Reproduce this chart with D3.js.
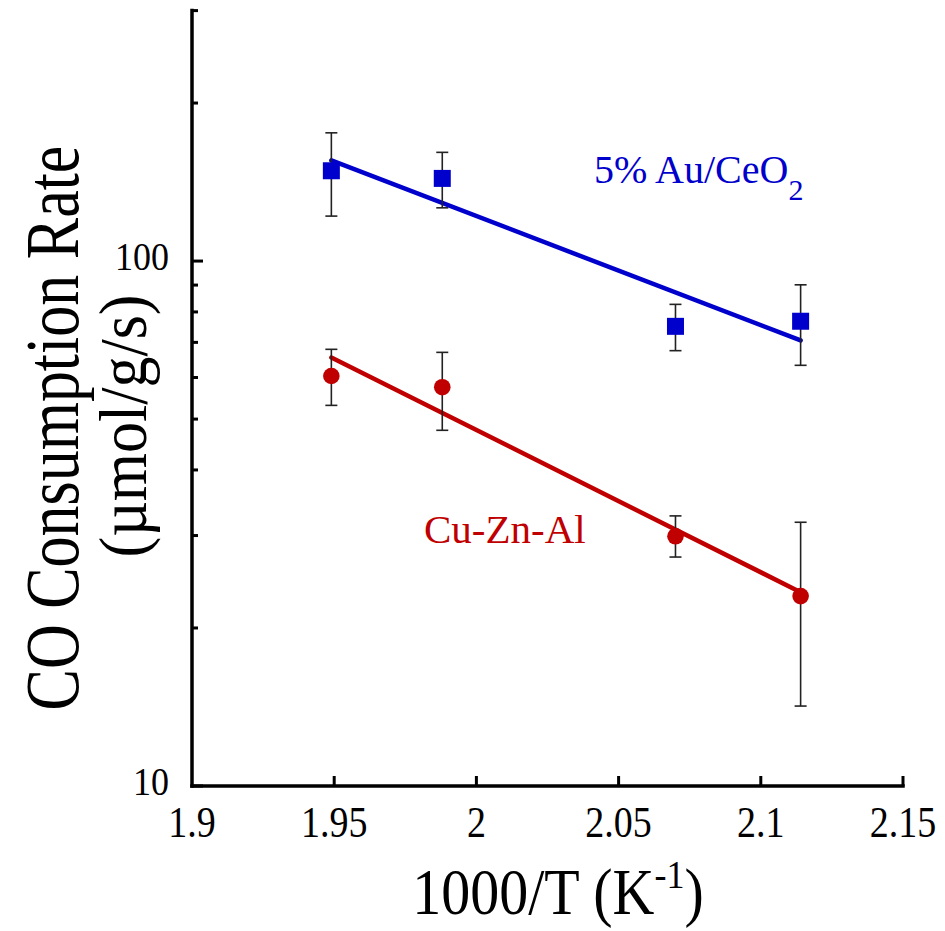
<!DOCTYPE html>
<html>
<head>
<meta charset="utf-8">
<script src="https://cdn.jsdelivr.net/npm/d3@7"></script>
<style>
  html, body { margin: 0; padding: 0; background: #fff; }
  svg text { font-family: "Liberation Serif", "Times New Roman", serif; }
</style>
</head>
<body>
<script>
// ---- data ----
const xValues = [1.949, 1.988, 2.070, 2.114];
const auRate = [148.6, 143.7, 75.1, 76.8];
const auErrLow = [121.8, 126.3, 67.5, 63.3];
const auErrHigh = [175.5, 161.1, 82.7, 90.1];
const cuRate = [60.4, 57.5, 29.9, 23.0];
const cuErrLow = [53.1, 47.6, 27.3, 14.2];
const cuErrHigh = [67.9, 67.0, 32.7, 31.8];
const auFitX = [1.949, 2.114];
const auFitY = [155.5, 70.6];
const cuFitX = [1.949, 2.114];
const cuFitY = [65.5, 23.4];
const xTicks = [1.9, 1.95, 2.0, 2.05, 2.1, 2.15];
const xTickLabels = ["1.9", "1.95", "2", "2.05", "2.1", "2.15"];
const yMajorTicks = [10, 100];
const yMinorTicks = [20, 30, 40, 50, 60, 70, 80, 90, 200, 300];

const W = 945, H = 931;
const blue = "#0000cc", red = "#c00000";

const svg = d3.select("body").append("svg").attr("width", W).attr("height", H);

const x = d3.scaleLinear().domain([1.9, 2.15]).range([192, 903]);
const y = d3.scaleLog().domain([10, 300]).range([786, 10.6]);

// text helper: places text in a group with a glyph-height stretch
function stretchedText(tx, ty, rot, sy) {
  return svg.append("g")
    .attr("transform", `translate(${tx},${ty}) rotate(${rot}) scale(1,${sy})`)
    .append("text").attr("x", 0).attr("y", 0);
}

// axes lines
const axG = svg.append("g");
axG.append("line").attr("x1", x(1.9)).attr("x2", x(1.9)).attr("y1", y(300)).attr("y2", y(10))
  .attr("stroke", "#000").attr("stroke-width", 3.5).attr("stroke-linecap", "square");
axG.append("line").attr("x1", x(1.9)).attr("x2", x(2.15)).attr("y1", y(10)).attr("y2", y(10))
  .attr("stroke", "#000").attr("stroke-width", 3.5).attr("stroke-linecap", "square");

// x ticks (inward)
axG.selectAll(".xt").data(xTicks.slice(1)).enter().append("line")
  .attr("x1", d => x(d)).attr("x2", d => x(d)).attr("y1", y(10)).attr("y2", y(10) - 10)
  .attr("stroke", "#000").attr("stroke-width", 3);
// y ticks
axG.selectAll(".ymaj").data(yMajorTicks).enter().append("line")
  .attr("x1", x(1.9)).attr("x2", x(1.9) + 11).attr("y1", d => y(d)).attr("y2", d => y(d))
  .attr("stroke", "#000").attr("stroke-width", 3);
axG.selectAll(".ymin").data(yMinorTicks).enter().append("line")
  .attr("x1", x(1.9)).attr("x2", x(1.9) + 6).attr("y1", d => y(d)).attr("y2", d => y(d))
  .attr("stroke", "#000").attr("stroke-width", 3);

// tick labels
xTicks.forEach((d, i) => {
  stretchedText(x(d), 837, 0, 1.14).attr("text-anchor", "middle").attr("font-size", 38).text(xTickLabels[i]);
});
yMajorTicks.forEach(d => {
  stretchedText(169, y(d) + 9, 0, 1.12).attr("text-anchor", "end").attr("font-size", 36).text(d3.format("d")(d));
});

// axis titles
const xt = stretchedText(558, 914, 0, 1.12).attr("text-anchor", "middle").attr("font-size", 58);
xt.append("tspan").text("1000/T (K");
xt.append("tspan").attr("font-size", 36).attr("dy", -23).text("-1");
xt.append("tspan").attr("dy", 23).text(")");

stretchedText(78, 428, -90, 1.22).attr("text-anchor", "middle").attr("font-size", 62)
  .text("CO Consumption Rate");
stretchedText(146, 426, -90, 1.08).attr("text-anchor", "middle").attr("font-size", 62)
  .text("(\u00b5mol/g/s)");

// fit lines
const line = d3.line().x(d => x(d[0])).y(d => y(d[1]));
svg.append("path").datum(d3.zip(auFitX, auFitY)).attr("d", line)
  .attr("stroke", blue).attr("stroke-width", 4.5).attr("fill", "none").attr("stroke-linecap", "round");
svg.append("path").datum(d3.zip(cuFitX, cuFitY)).attr("d", line)
  .attr("stroke", red).attr("stroke-width", 4.5).attr("fill", "none").attr("stroke-linecap", "round");

// error bars
function errBars(lo, hi) {
  const g = svg.append("g").attr("stroke", "#222").attr("stroke-width", 1.6);
  xValues.forEach((xv, i) => {
    g.append("line").attr("x1", x(xv)).attr("x2", x(xv)).attr("y1", y(lo[i])).attr("y2", y(hi[i]));
    g.append("line").attr("x1", x(xv) - 6).attr("x2", x(xv) + 6).attr("y1", y(lo[i])).attr("y2", y(lo[i]));
    g.append("line").attr("x1", x(xv) - 6).attr("x2", x(xv) + 6).attr("y1", y(hi[i])).attr("y2", y(hi[i]));
  });
}
errBars(auErrLow, auErrHigh);
errBars(cuErrLow, cuErrHigh);

// markers
svg.selectAll(".sq").data(d3.zip(xValues, auRate)).enter().append("rect")
  .attr("x", d => x(d[0]) - 8.5).attr("y", d => y(d[1]) - 8.5)
  .attr("width", 17).attr("height", 17).attr("fill", blue);
svg.selectAll(".ci").data(d3.zip(xValues, cuRate)).enter().append("circle")
  .attr("cx", d => x(d[0])).attr("cy", d => y(d[1])).attr("r", 8.3).attr("fill", red);

// annotations
const at = svg.append("text").attr("x", 594).attr("y", 183).attr("font-size", 40).attr("fill", blue);
at.append("tspan").text("5% Au/CeO");
at.append("tspan").attr("font-size", 30).attr("dy", 17).text("2");
svg.append("text").attr("x", 424).attr("y", 543).attr("font-size", 41).attr("fill", red).text("Cu-Zn-Al");
</script>
</body>
</html>
